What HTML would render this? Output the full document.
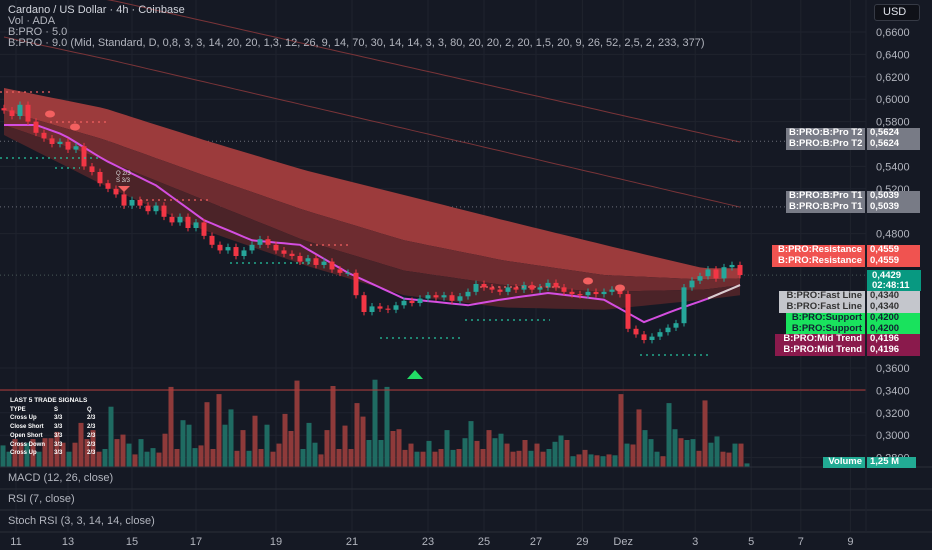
<!DOCTYPE html>
<html><head><meta charset="utf-8">
<style>
html,body{margin:0;padding:0;background:#151924;}
#root{position:relative;width:932px;height:550px;overflow:hidden;background:#151924;font-family:"Liberation Sans",sans-serif;}
svg{position:absolute;left:0;top:0;}
.t{position:absolute;color:#b2b5be;font-size:11px;white-space:nowrap;line-height:11px;}
.lab{position:absolute;font-size:9.5px;font-weight:bold;white-space:nowrap;padding:0 3px;box-sizing:border-box;overflow:hidden;}
</style></head><body>
<div id="root">
<svg id="svg" width="932" height="550"></svg>

<div class="t" style="left:8px;top:5px;color:#d1d4dc">Cardano / US Dollar · 4h · Coinbase</div>
<div class="t" style="left:8px;top:16px">Vol · ADA</div>
<div class="t" style="left:8px;top:27px">B:PRO · 5.0</div>
<div class="t" style="left:8px;top:38px">B:PRO · 9.0 (Mid, Standard, D, 0,8, 3, 3, 14, 20, 20, 1,3, 12, 26, 9, 14, 70, 30, 14, 14, 3, 3, 80, 20, 20, 2, 20, 1,5, 20, 9, 26, 52, 2,5, 2, 233, 377)</div>

<div class="t" style="left:874px;top:4px;width:46px;border:1px solid #363a45;border-radius:3px;background:#0f1118;color:#e0e3eb;line-height:15px;padding-left:8px;box-sizing:border-box;height:17px">USD</div>

<div class="t" style="left:8px;top:473px">MACD (12, 26, close)</div>
<div class="t" style="left:8px;top:494px">RSI (7, close)</div>
<div class="t" style="left:8px;top:516px">Stoch RSI (3, 3, 14, 14, close)</div>

<div style="position:absolute;left:10px;top:397px;color:#fff;font-size:6px;line-height:8.7px;font-weight:bold">
<div style="font-size:6.5px">LAST 5 TRADE SIGNALS</div>
<div><span style="display:inline-block;width:44px">TYPE</span><span style="display:inline-block;width:33px">S</span>Q</div>
<div><span style="display:inline-block;width:44px">Cross Up</span><span style="display:inline-block;width:33px">3/3</span>2/3</div>
<div><span style="display:inline-block;width:44px">Close Short</span><span style="display:inline-block;width:33px">3/3</span>2/3</div>
<div><span style="display:inline-block;width:44px">Open Short</span><span style="display:inline-block;width:33px">3/3</span>2/3</div>
<div><span style="display:inline-block;width:44px">Cross Down</span><span style="display:inline-block;width:33px">3/3</span>2/3</div>
<div><span style="display:inline-block;width:44px">Cross Up</span><span style="display:inline-block;width:33px">3/3</span>2/3</div>
</div>

<div id="labels"></div>
</div>

<script>
// ---------- data ----------
const priceTicks = [0.66,0.64,0.62,0.60,0.58,0.54,0.52,0.48,0.36,0.34,0.32,0.30,0.28];
const dateLabels = ["11","13","15","17","19","21","23","25","27","29","Dez","3","5","7","9"];
const dateIndex = [1.5,8,16,24,34,43.5,53,60,66.5,72.3,77.4,86.4,93.4,99.6,105.8];
const closes = [0.590,0.585,0.595,0.580,0.570,0.565,0.560,0.562,0.555,0.558,0.540,0.535,0.525,0.520,0.515,0.505,0.510,0.505,0.500,0.505,0.495,0.490,0.495,0.485,0.490,0.478,0.470,0.465,0.468,0.460,0.465,0.470,0.475,0.470,0.465,0.462,0.460,0.455,0.458,0.452,0.455,0.448,0.445,0.445,0.425,0.410,0.415,0.413,0.412,0.416,0.420,0.418,0.422,0.425,0.423,0.425,0.420,0.424,0.428,0.435,0.432,0.430,0.428,0.432,0.430,0.434,0.430,0.432,0.436,0.432,0.428,0.426,0.425,0.428,0.426,0.428,0.430,0.426,0.395,0.390,0.385,0.388,0.392,0.396,0.400,0.432,0.438,0.442,0.448,0.440,0.450,0.452,0.443];
const firstOpen = 0.592;
const bandKnots = [0,12.5,25,37.5,50,62.5,75,87.5,92];
const bandTop = [0.610,0.592,0.5636,0.5368,0.5145,0.492,0.470,0.449,0.449];
const bandL1 = [0.590,0.564,0.532,0.501,0.474,0.456,0.443,0.439,0.440];
const bandL2 = [0.577,0.546,0.510,0.474,0.447,0.434,0.428,0.430,0.434];
const bandBottom = [0.568,0.523,0.483,0.452,0.425,0.414,0.412,0.421,0.425];
const midKnots = [0,4,7.5,12.5,19,25,31,37,43,50,58,62,68,75,80,84,88,92];
const midTrend = [0.577,0.577,0.568,0.546,0.523,0.492,0.474,0.470,0.445,0.422,0.416,0.421,0.427,0.421,0.401,0.412,0.422,0.434];
const maKnots = [0,13.3,57.75,92];
const maSlow = [0.700,0.6886,0.6171,0.5618];
const maFast = [0.6555,0.635,0.561,0.5037];
const volumes = [24,17,31,27,27,31,17,32,32,39,27,17,27,49,31,41,17,20,67,31,36,26,14,31,17,21,16,37,89,20,52,47,21,24,72,20,81,47,64,18,41,18,57,20,47,17,26,59,40,96,20,49,27,14,41,90,20,46,20,71,56,30,97,30,89,40,42,19,26,17,17,29,17,20,41,19,20,32,51,29,20,41,32,37,26,17,18,30,18,26,17,20,28,35,30,12,14,19,14,13,12,14,13,81,26,25,64,41,31,17,12,71,42,32,30,31,18,74,27,34,17,16,26,26,4];
const volumeUp = [1,1,0,0,1,0,1,0,0,0,0,1,0,0,0,0,0,1,1,0,0,1,0,1,1,1,0,0,0,0,1,1,1,0,0,0,0,1,1,0,0,1,0,0,1,0,0,0,0,0,1,1,1,0,0,0,0,0,0,0,0,1,1,1,1,0,0,0,0,1,0,1,0,0,1,1,0,1,1,0,0,0,1,1,0,0,0,0,1,0,0,1,1,1,0,1,0,0,1,0,1,0,1,0,1,0,0,1,1,1,0,1,1,0,1,1,0,0,1,1,0,0,1,0,1];
const volMax = 100;

// ---------- axes ----------
const PLOT_R = 866, VOL_BASE = 467, VOL_H = 90;
function y(p){ return 32 + (0.66 - p) / 0.02 * 22.4; }
function cx(i){ return 4 + 8 * i; }
function vx(i){ return 3 + 6 * i; }
function vh(v){ return v / volMax * VOL_H; }

const NS = "http://www.w3.org/2000/svg";
const svg = document.getElementById('svg');
function mk(tag, attrs, parent){ const e=document.createElementNS(NS,tag); for(const k in attrs) e.setAttribute(k,attrs[k]); (parent||svg).appendChild(e); return e; }
function interp(knots, vals, i){
  for(let k=0;k<knots.length-1;k++){ if(i<=knots[k+1]){ const t=(i-knots[k])/(knots[k+1]-knots[k]); return vals[k]+(vals[k+1]-vals[k])*t; } }
  return vals[vals.length-1];
}

// grid
const grid = mk('g',{});


priceTicks.forEach(p=>{ const l=mk('line',{x1:0,x2:PLOT_R,y1:y(p),y2:y(p),stroke:'#1f232e','stroke-width':1},grid);
    });
dateIndex.forEach(d=>{ const l=mk('line',{x1:cx(d),x2:cx(d),y1:0,y2:532,stroke:'#1f232e','stroke-width':1},grid);
    });

// long moving averages
[[maSlow,'ma-slow-line'],[maFast,'ma-fast-line']].forEach(([arr,nm])=>{
  let d=''; for(let i=0;i<=92;i+=1){ d+=(i?'L':'M')+cx(i)+','+y(interp(maKnots,arr,i)).toFixed(1); }
  const p=mk('path',{d:d,fill:'none',stroke:'#7a3438','stroke-width':1});
   
});

// dotted level lines
[[0.5624,'#6b6e78','t2-level-line'],[0.5039,'#6b6e78','t1-level-line'],[0.4429,'#4a5a58','current-price-line']].forEach(([p,c,nm])=>{
  const l=mk('line',{x1:0,x2:PLOT_R,y1:y(p),y2:y(p),stroke:c,'stroke-width':1,'stroke-dasharray':'1,3'});
   
});

// cloud bands
function band(upper, lower, fill, nm){
  let d=''; for(let i=0;i<=92;i++) d+=(i?'L':'M')+cx(i)+','+y(interp(bandKnots,upper,i)).toFixed(1);
  for(let i=92;i>=0;i--) d+='L'+cx(i)+','+y(interp(bandKnots,lower,i)).toFixed(1);
  const p=mk('path',{d:d+'Z',fill:fill});
   
}
band(bandTop,bandL1,'#9c3b3c','cloud-outer-band');
band(bandL1,bandL2,'#6e2c30','cloud-middle-band');
band(bandL2,bandBottom,'#4b2328','cloud-inner-band');

// volume
const volG = mk('g',{});


volumes.forEach((v,i)=>{
  const h=vh(v);
  const r=mk('rect',{x:vx(i)-2.5,y:VOL_BASE-h,width:5,height:h,fill:volumeUp[i]?'#1f6b62':'#8e3a3a'},volG);
   
});
const hl=mk('line',{x1:0,x2:PLOT_R,y1:390,y2:390,stroke:'#b23a3a','stroke-width':1});
 

// mid trend line
{ let d=''; for(let i=0;i<=92;i++) d+=(i?'L':'M')+cx(i)+','+y(interp(midKnots,midTrend,i)).toFixed(1);
  const p=mk('path',{d:d,fill:'none',stroke:'#d44ee0','stroke-width':2});
   
  let d2=''; for(let i=88;i<=92;i++) d2+=(i>88?'L':'M')+cx(i)+','+y(interp(midKnots,midTrend,i)).toFixed(1);
  const p2=mk('path',{d:d2,fill:'none',stroke:'#d8d0cc','stroke-width':2});
   
}

// candles
const cg = mk('g',{});


closes.forEach((c,i)=>{
  const o = i===0 ? firstOpen : closes[i-1];
  const up = c>=o, col = up ? '#26a69a' : '#f23645';
  const hi = Math.max(o,c)+0.003, lo = Math.min(o,c)-0.003;
  const w=mk('line',{x1:cx(i),x2:cx(i),y1:y(hi),y2:y(lo),stroke:col,'stroke-width':1},cg);
   
  const top=y(Math.max(o,c)), bh=Math.max(1,y(Math.min(o,c))-top);
  const b=mk('rect',{x:cx(i)-2.5,y:top,width:5,height:bh,fill:col},cg);
   
});

// signal markers
const tri=mk('path',{d:'M407,379 L415,370 L423,379 Z',fill:'#22dd66'});
 
[[50,114],[75,127],[588,281],[620,288]].forEach(([x0,y0])=>{
  const e=mk('ellipse',{cx:x0,cy:y0,rx:5,ry:3.5,fill:'#f26060'});
   
});
const tr2=mk('path',{d:'M118,186 L124,192 L130,186 Z',fill:'#f26060'});
 
const qtx=mk('text',{x:116,y:175,fill:'#ddd','font-size':6,'font-family':'Liberation Sans'}); qtx.textContent='Q 2/3';
 
const stx=mk('text',{x:116,y:182,fill:'#ddd','font-size':6,'font-family':'Liberation Sans'}); stx.textContent='S 3/3';
 

// dotted support/resistance segments
[[0,100,158,'#26c6a0'],[55,80,168,'#26c6a0'],[380,460,338,'#26c6a0'],[465,550,320,'#26c6a0'],[640,710,355,'#26c6a0'],[230,310,263,'#26c6a0'],[0,50,92,'#f26060'],[50,110,122,'#f26060'],[140,210,200,'#f26060'],[310,350,245,'#f26060'],[480,560,287,'#f26060']].forEach(([a,b,yy,c])=>{
  const l=mk('line',{x1:a,x2:b,y1:yy,y2:yy,stroke:c,'stroke-width':1.3,'stroke-dasharray':'2,4'});
   
});

// pane separators
[467,489,510,532].forEach(yy=>{
  const l=mk('line',{x1:0,x2:932,y1:yy,y2:yy,stroke:'#2a2e39','stroke-width':1});
   
});
const ax=mk('line',{x1:PLOT_R,x2:PLOT_R,y1:0,y2:532,stroke:'#1f232e','stroke-width':1});
 

// price ticks
priceTicks.forEach(p=>{
  const t=mk('text',{x:876,y:y(p)+4,fill:'#b2b5be','font-size':11,'font-family':'Liberation Sans'});
  t.textContent=p.toFixed(4).replace('.',',');
   
});
// date ticks
dateLabels.forEach((s,i)=>{
  const t=mk('text',{x:cx(dateIndex[i]),y:545,fill:'#b2b5be','font-size':11,'font-family':'Liberation Sans','text-anchor':'middle'});
  t.textContent=s;
   
});

// right side labels
const labelsDiv=document.getElementById('labels');
function lab(left,top,w,h,bg,col,txt,nm,align){
  const d=document.createElement('div'); d.className='lab';
  d.style.cssText=`left:${left}px;top:${top}px;width:${w}px;height:${h}px;background:${bg};color:${col};line-height:${h}px;text-align:${align||'right'};`;
  d.textContent=txt;
  
  
  labelsDiv.appendChild(d);
}
const rows=[
 [128,786,'#787b86','#fff','B:PRO:B:Pro T2','0,5624','t2'],
 [191,786,'#787b86','#fff','B:PRO:B:Pro T1','0,5039','t1'],
 [245,772,'#f05350','#fff','B:PRO:Resistance','0,4559','resistance'],
 [291,779,'#c4c6cc','#333','B:PRO:Fast Line','0,4340','fast-line'],
 [313,786,'#19e25d','#123','B:PRO:Support','0,4200','support'],
 [334,775,'#8a1a4c','#fff','B:PRO:Mid Trend','0,4196','mid-trend'],
];
rows.forEach(([t,l,bg,col,name,val,nm])=>{
  for(let k=0;k<2;k++){
    lab(l,t+k*11,PLOT_R-l-1,10.5,bg,col,name,nm+'-label','right');
    lab(PLOT_R+1,t+k*11,53,10.5,bg,col,val,nm+'-value','left');
  }
});
lab(PLOT_R+1,270,54,21,'#089981','#fff','','current-price-box');
lab(PLOT_R+3,271,50,10,'transparent','#fff','0,4429','current-price-value','left');
lab(PLOT_R+3,281,50,10,'transparent','#fff','02:48:11','bar-countdown','left');
lab(823,457,42,10.5,'#22ab94','#fff','Volume','volume-label','right');
lab(PLOT_R+1,457,49,10.5,'#22ab94','#fff','1,25 M','volume-value','left');
</script>
</body></html>
